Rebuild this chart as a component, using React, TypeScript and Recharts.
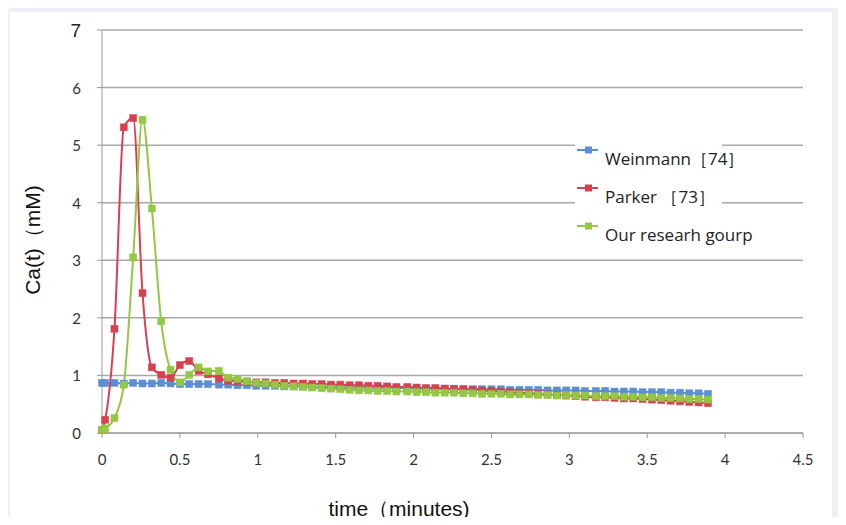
import React from 'react';
import { CartesianGrid, Legend, Line, LineChart, XAxis, YAxis } from 'recharts';

const times = [
  0, 0.02, 0.08, 0.14, 0.2, 0.26, 0.32, 0.38, 0.44, 0.5,
  0.56, 0.62, 0.68, 0.75, 0.81, 0.87, 0.93, 0.99, 1.05, 1.11,
  1.17, 1.23, 1.29, 1.35, 1.41, 1.47, 1.53, 1.59, 1.65, 1.71,
  1.77, 1.83, 1.89, 1.96, 2.02, 2.08, 2.14, 2.2, 2.26, 2.32,
  2.38, 2.44, 2.5, 2.56, 2.62, 2.68, 2.74, 2.8, 2.86, 2.92,
  2.98, 3.04, 3.1, 3.17, 3.23, 3.29, 3.35, 3.41, 3.47, 3.53,
  3.59, 3.65, 3.71, 3.77, 3.83, 3.89,
];

const weinmann = [
  0.87, 0.87, 0.87, 0.86, 0.87, 0.86, 0.86, 0.87, 0.86, 0.85,
  0.85, 0.85, 0.85, 0.84, 0.84, 0.83, 0.83, 0.82, 0.82, 0.82,
  0.81, 0.81, 0.81, 0.8, 0.8, 0.8, 0.79, 0.79, 0.79, 0.79,
  0.78, 0.78, 0.78, 0.78, 0.77, 0.77, 0.77, 0.77, 0.77, 0.76,
  0.76, 0.76, 0.76, 0.76, 0.75, 0.75, 0.75, 0.75, 0.74, 0.74,
  0.74, 0.74, 0.73, 0.73, 0.73, 0.72, 0.72, 0.72, 0.71, 0.71,
  0.71, 0.7, 0.7, 0.69, 0.69, 0.68,
];

const parker = [
  0.05, 0.23, 1.81, 5.31, 5.47, 2.43, 1.14, 1.01, 0.96, 1.18,
  1.25, 1.08, 1.02, 0.95, 0.91, 0.9, 0.89, 0.88, 0.88, 0.87,
  0.87, 0.86, 0.86, 0.85, 0.85, 0.84, 0.84, 0.83, 0.83, 0.82,
  0.82, 0.81, 0.8, 0.8, 0.79, 0.78, 0.78, 0.77, 0.76, 0.76,
  0.75, 0.74, 0.73, 0.72, 0.71, 0.7, 0.69, 0.68, 0.67, 0.66,
  0.65, 0.64, 0.63, 0.62, 0.62, 0.61, 0.6, 0.6, 0.59, 0.58,
  0.57, 0.56, 0.55, 0.54, 0.53, 0.52,
];

const ours = [
  0.05, 0.08, 0.26, 0.84, 3.05, 5.44, 3.9, 1.94, 1.1, 0.88,
  1.01, 1.14, 1.07, 1.08, 0.96, 0.94, 0.9, 0.87, 0.86, 0.84,
  0.82, 0.81, 0.8, 0.79, 0.78, 0.77, 0.76, 0.75, 0.74, 0.74,
  0.73, 0.73, 0.72, 0.72, 0.71, 0.71, 0.7, 0.7, 0.7, 0.69,
  0.69, 0.68, 0.68, 0.68, 0.67, 0.67, 0.67, 0.66, 0.66, 0.65,
  0.66, 0.65, 0.65, 0.64, 0.64, 0.64, 0.63, 0.63, 0.62, 0.62,
  0.61, 0.61, 0.6, 0.59, 0.59, 0.58,
];

const xTicks = [0, 0.5, 1, 1.5, 2, 2.5, 3, 3.5, 4, 4.5];
const yTicks = [0, 1, 2, 3, 4, 5, 6, 7];

const seriesNames = ['Weinmann［74］', 'Parker ［73］', 'Our researh gourp'];
const colors = ['#5a8fd2', '#d6404f', '#93c842'];

const data = times.map((t, i) => ({
  t,
  weinmann: weinmann[i],
  parker: parker[i],
  ours: ours[i],
}));

const tickFont = 'Lato, "Open Sans", sans-serif';

const squareDot = (color: string) => (props: any) => {
  const { cx, cy, index } = props;
  if (cx == null || cy == null) return <g key={`d-${index}`} />;
  return (
    <rect
      key={`d-${index}`}
      x={cx - 3.5}
      y={cy - 3.5}
      width={7}
      height={7}
      fill={color}
      stroke={color}
      strokeOpacity={0.6}
      strokeWidth={0.8}
    />
  );
};

const YTick = (props: any) => {
  const { x, y, payload } = props;
  const big = payload.value === 7;
  return (
    <text
      x={x}
      y={y}
      dy={big ? 7 : 6}
      textAnchor="end"
      fill={big ? '#222' : '#333'}
      fontSize={big ? 19 : 15}
      fontFamily={big ? '"Liberation Sans", Arial, sans-serif' : tickFont}
    >
      {payload.value}
    </text>
  );
};

const renderLegend = (props: any) => {
  // keep the series order, not alphabetical
  const items = [...(props.payload || [])].sort(
    (a: any, b: any) => seriesNames.indexOf(a.value) - seriesNames.indexOf(b.value)
  );
  return (
    <div style={{ position: 'relative', width: 147, height: 118, background: '#fff' }}>
      {items.map((entry: any, i: number) => (
        <div key={entry.value} style={{ position: 'absolute', left: 0, top: i * 38, height: 38, width: 260 }}>
          <svg width={22} height={12} style={{ position: 'absolute', left: 2, top: 4 }}>
            <line x1={0} y1={6} x2={21} y2={6} stroke={entry.color} strokeWidth={2} />
            <rect x={8} y={2.5} width={7} height={7} fill={entry.color} />
          </svg>
          <span
            style={{
              position: 'absolute',
              left: 30,
              top: 7,
              fontFamily: '"Open Sans", sans-serif',
              fontSize: 17,
              color: '#222',
              whiteSpace: 'nowrap',
              lineHeight: '24px',
            }}
          >
            {entry.value}
          </span>
        </div>
      ))}
    </div>
  );
};

export default function App() {
  return (
    <div
      style={{
        position: 'relative',
        width: 846,
        height: 525,
        margin: -8,
        background: '#eef0f6',
        overflow: 'hidden',
      }}
    >
      <div style={{ position: 'absolute', left: 10, top: 12, width: 822, height: 506, background: '#fff' }} />
      <div style={{ position: 'absolute', left: 52, top: 6, width: 770, height: 2, background: '#9a9a9a' }} />
      <div style={{ position: 'absolute', left: 0, top: 0 }}>
        <LineChart width={846} height={525} data={data} margin={{ top: 30, right: 43, left: 42, bottom: 32 }}>
          <CartesianGrid vertical={false} stroke="#a8a8a8" strokeWidth={1.5} />
          <XAxis
            dataKey="t"
            type="number"
            domain={[0, 4.5]}
            ticks={xTicks}
            height={60}
            stroke="#9a9a9a"
            tickSize={5}
            tickMargin={16}
            tick={{ fill: '#333', fontSize: 15, fontFamily: tickFont }}
          />
          <YAxis
            type="number"
            domain={[0, 7]}
            ticks={yTicks}
            width={60}
            stroke="#9a9a9a"
            tickSize={5}
            tickMargin={16}
            tick={YTick}
          />
          <Legend
            layout="vertical"
            align="center"
            verticalAlign="middle"
            content={renderLegend}
            wrapperStyle={{ left: 575, top: 140, width: 147 }}
          />
          <Line
            name={seriesNames[0]}
            dataKey="weinmann"
            type="monotone"
            stroke={colors[0]}
            strokeWidth={2}
            dot={squareDot(colors[0])}
            isAnimationActive={false}
          />
          <Line
            name={seriesNames[1]}
            dataKey="parker"
            type="monotone"
            stroke={colors[1]}
            strokeWidth={2}
            dot={squareDot(colors[1])}
            isAnimationActive={false}
          />
          <Line
            name={seriesNames[2]}
            dataKey="ours"
            type="monotone"
            stroke={colors[2]}
            strokeWidth={2}
            dot={squareDot(colors[2])}
            isAnimationActive={false}
          />
        </LineChart>
      </div>
      <div
        style={{
          position: 'absolute',
          left: 33,
          top: 240,
          transform: 'translate(-50%, -50%) rotate(-90deg)',
          fontFamily: '"Liberation Sans", Arial, sans-serif',
          fontSize: 21,
          color: '#111',
          whiteSpace: 'nowrap',
        }}
      >
        Ca(t)（mM)
      </div>
      <div
        style={{
          position: 'absolute',
          left: 399,
          top: 509,
          transform: 'translate(-50%, -50%)',
          fontFamily: '"Liberation Sans", Arial, sans-serif',
          fontSize: 21,
          color: '#111',
          whiteSpace: 'nowrap',
        }}
      >
        time（minutes)
      </div>
    </div>
  );
}
